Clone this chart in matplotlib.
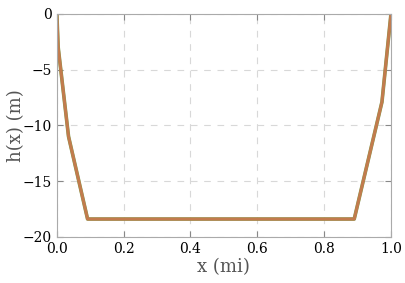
import matplotlib
matplotlib.use("Agg")
import matplotlib.pyplot as plt

# depth profile
x_mi = [0.0, 0.004, 0.035, 0.092, 0.89, 0.973, 1.0]
h_m = [0.0, -3.0, -11.0, -18.4, -18.4, -7.9, 0.0]

plt.rcParams['font.family'] = ['DejaVu Serif']

fig = plt.figure(figsize=(4.06, 2.83), dpi=100)
ax = fig.add_axes([0.140, 0.163, 0.823, 0.788])

ax.plot(x_mi, h_m, color='#7f9a4c', lw=2.6)
ax.plot(x_mi, h_m, color='#cc774e', lw=2.2, alpha=0.88)

ax.set_xlim(0, 1)
ax.set_ylim(-20, 0)
ax.set_xticks([0.0, 0.2, 0.4, 0.6, 0.8, 1.0])
ax.set_yticks([-20, -15, -10, -5, 0])

ax.grid(True, linestyle=(0, (6, 6)), color='#d8d8d8', lw=0.8)
for s in ax.spines.values():
    s.set_color('#aaaaaa')
ax.tick_params(direction='in', right=True, top=True, color='#888888',
               labelsize=10, length=4)

ax.set_xlabel('x (mi)', fontsize=13, color='#555555', labelpad=2)
ax.set_ylabel('h(x) (m)', fontsize=13, color='#555555', labelpad=-1.5)

fig.savefig('out.png', dpi=100)
